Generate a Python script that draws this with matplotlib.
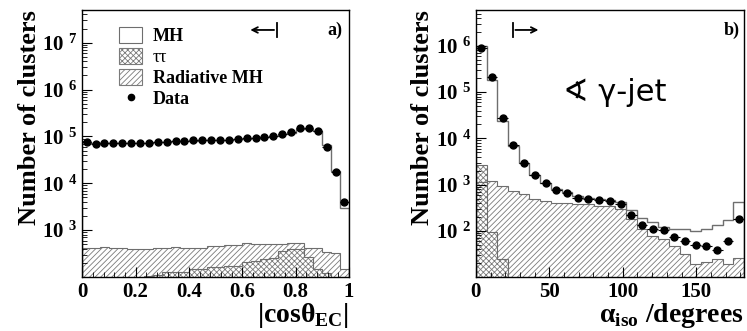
import numpy as np
import matplotlib
matplotlib.use("Agg")
import matplotlib.pyplot as plt
from matplotlib.patches import Patch
from matplotlib.lines import Line2D
from matplotlib.ticker import LogLocator, NullFormatter, MultipleLocator

plt.rcParams['font.family'] = ['Liberation Serif', 'DejaVu Serif']
plt.rcParams['font.weight'] = 'bold'
plt.rcParams['axes.labelweight'] = 'bold'
plt.rcParams['mathtext.fontset'] = 'custom'
plt.rcParams['mathtext.rm'] = 'Liberation Serif:bold'
plt.rcParams['mathtext.bf'] = 'Liberation Serif:bold'
plt.rcParams['hatch.linewidth'] = 0.6

# panel a) |cos theta_EC|, 30 bins
cos_data = [7.6e4, 7.0e4, 7.2e4, 7.1e4, 7.4e4, 7.2e4, 7.2e4, 7.4e4, 7.6e4, 7.6e4,
            8.0e4, 7.9e4, 8.2e4, 8.2e4, 8.3e4, 8.5e4, 8.5e4, 8.8e4, 9.1e4, 9.2e4,
            9.5e4, 1.0e5, 1.1e5, 1.22e5, 1.5e5, 1.5e5, 1.28e5, 6.0e4, 1.75e4, 4.0e3]
cos_mh = [7.5e4, 7.1e4, 7.2e4, 7.2e4, 7.3e4, 7.2e4, 7.3e4, 7.4e4, 7.5e4, 7.7e4,
          7.9e4, 8.0e4, 8.1e4, 8.3e4, 8.4e4, 8.5e4, 8.6e4, 8.8e4, 9.0e4, 9.3e4,
          9.6e4, 1.0e5, 1.1e5, 1.2e5, 1.45e5, 1.45e5, 1.3e5, 6.5e4, 1.85e4, 3.0e3]
cos_rad = [408, 408, 443, 420, 420, 388, 388, 388, 408, 408,
           443, 420, 420, 420, 457, 470, 480, 480, 520, 500,
           500, 500, 500, 540, 540, 410, 410, 345, 330, 145]
cos_tau = [0, 0, 0, 0, 0, 0, 0, 103, 110, 128,
           128, 128, 150, 150, 164, 165, 170, 175, 213, 225,
           245, 260, 357, 400, 400, 270, 145, 120, 0, 0]

# panel b) alpha_iso in degrees, 25 bins
alpha_data = [9.2e5, 2.1e5, 2.8e4, 7.1e3, 2.9e3, 1.63e3, 1.1e3, 770, 670, 510,
              490, 465, 435, 380, 225, 133, 109, 105, 72, 59,
              49, 48, 38, 59, 178]
alpha_mh = [1.0e6, 1.84e5, 2.4e4, 6.7e3, 2.9e3, 1.65e3, 1.1e3, 790, 690, 560,
            520, 490, 460, 430, 280, 190, 157, 121, 112, 109,
            98, 109, 133, 173, 430]
alpha_rad = [1150, 1200, 940, 725, 620, 490, 440, 400, 400, 380,
             380, 350, 350, 295, 180, 109, 78, 66, 48, 32,
             19, 21, 24, 19, 26]
alpha_tau = [2600, 93, 24, 0, 0, 0, 0, 0, 0, 0,
             0, 0, 0, 0, 0, 0, 0, 0, 0, 0,
             0, 0, 0, 0, 0]

cos_edges = np.linspace(0, 1, len(cos_data) + 1)
alpha_edges = np.arange(len(alpha_data) + 1) * 7.3

gray = '#6e6e6e'
hgray = '#7a7a7a'


def draw_panel(ax, edges, data, mh, rad, tau, ymin, ymax):
    base = ymin * 0.1
    rad = np.clip(rad, base, None)
    tau = np.clip(tau, base, None)
    ax.stairs(rad, edges, baseline=base, fill=True, facecolor='white',
              edgecolor=hgray, hatch='//////', lw=0)
    ax.stairs(tau, edges, baseline=base, fill=True, facecolor='white',
              edgecolor=hgray, hatch='xxxxxx', lw=0)
    ax.stairs(tau, edges, baseline=base, color=gray, lw=0.8)
    ax.stairs(rad, edges, baseline=base, color=gray, lw=0.8)
    ax.stairs(mh, edges, baseline=base, color=gray, lw=1.0)
    centers = 0.5 * (edges[1:] + edges[:-1])
    half = 0.5 * np.diff(edges)
    ax.errorbar(centers, data, xerr=half, fmt='o', color='black', ms=5,
                lw=0.8, capsize=0)
    ax.set_yscale('log')
    ax.set_ylim(ymin, ymax)
    ax.set_xlim(edges[0], edges[-1])
    ax.tick_params(which='both', direction='in', top=False, right=False,
                   labelsize=15)
    ax.tick_params(which='major', length=7, width=0.8)
    ax.tick_params(which='minor', length=3.5, width=0.6)
    ax.yaxis.set_minor_locator(LogLocator(base=10, subs=np.arange(2, 10)))
    ax.yaxis.set_minor_formatter(NullFormatter())
    lo = int(np.floor(np.log10(ymin))) + 1
    hi = int(np.floor(np.log10(ymax)))
    decades = list(range(lo, hi + 1))
    ax.set_yticks([10.0 ** d for d in decades])
    ax.set_yticklabels([r'$\mathrm{10^{\ %d}}$' % d for d in decades],
                       fontsize=15)
    ax.set_ylabel('Number of clusters', fontsize=19, fontweight='bold',
                  loc='top', labelpad=1)
    for s in ax.spines.values():
        s.set_linewidth(1.0)


fig = plt.figure(figsize=(7.47, 3.31), dpi=100)
ax1 = fig.add_axes([0.110, 0.163, 0.357, 0.807])
ax2 = fig.add_axes([0.637, 0.163, 0.359, 0.807])

draw_panel(ax1, cos_edges, cos_data, cos_mh, cos_rad, cos_tau, 100, 5e7)
ax1.xaxis.set_minor_locator(MultipleLocator(0.04))
ax1.set_xticks([0, 0.2, 0.4, 0.6, 0.8, 1.0])
ax1.set_xticklabels(['0', '0.2', '0.4', '0.6', '0.8', '1'])
ax1.set_xlabel(r'|cosθ$_{\mathrm{EC}}$|', fontsize=20, loc='right',
               labelpad=-1, fontweight='bold')
ax1.text(0.975, 0.955, 'a)', transform=ax1.transAxes, ha='right', va='top',
         fontsize=13, fontweight='bold')
ax1.annotate('', xy=(0.62, 0.925), xytext=(0.73, 0.925),
             xycoords=('data', 'axes fraction'),
             arrowprops=dict(arrowstyle='->', lw=1.3, color='black'))
ax1.plot([0.73, 0.73], [0.90, 0.95], color='black', lw=1.3,
         transform=ax1.get_xaxis_transform())

handles = [Patch(facecolor='white', edgecolor=gray, lw=0.8),
           Patch(facecolor='white', edgecolor=hgray, hatch='xxxxxx', lw=0.8),
           Patch(facecolor='white', edgecolor=hgray, hatch='//////', lw=0.8),
           Line2D([], [], marker='o', color='black', ls='none', ms=4.5)]
leg = ax1.legend(handles, ['MH', 'ττ', 'Radiative MH', 'Data'],
                 loc='upper left', bbox_to_anchor=(0.09, 0.985), frameon=False,
                 fontsize=13, handlelength=1.3, handleheight=1.0,
                 labelspacing=0.15, handletextpad=0.6, borderpad=0.2)
leg.get_texts()[1].set_fontweight('normal')

draw_panel(ax2, alpha_edges, alpha_data, alpha_mh, alpha_rad, alpha_tau, 10, 6e6)
ax2.set_xticks([0, 50, 100, 150])
ax2.xaxis.set_minor_locator(MultipleLocator(10))
ax2.set_xlabel(r'α$_{\mathrm{iso}}$ /degrees', fontsize=20, loc='right',
               labelpad=-1, fontweight='bold')
ax2.text(0.985, 0.955, 'b)', transform=ax2.transAxes, ha='right', va='top',
         fontsize=13, fontweight='bold')
ax2.annotate('', xy=(44.5, 0.925), xytext=(25, 0.925),
             xycoords=('data', 'axes fraction'),
             arrowprops=dict(arrowstyle='->', lw=1.3, color='black'))
ax2.plot([25, 25], [0.90, 0.95], color='black', lw=1.3,
         transform=ax2.get_xaxis_transform())
ax2.text(0.326, 0.69, '∢ γ-jet', transform=ax2.transAxes, ha='left',
         va='center', fontsize=22, fontweight='normal',
         family=['DejaVu Sans'])

fig.savefig('out.png', dpi=100)
